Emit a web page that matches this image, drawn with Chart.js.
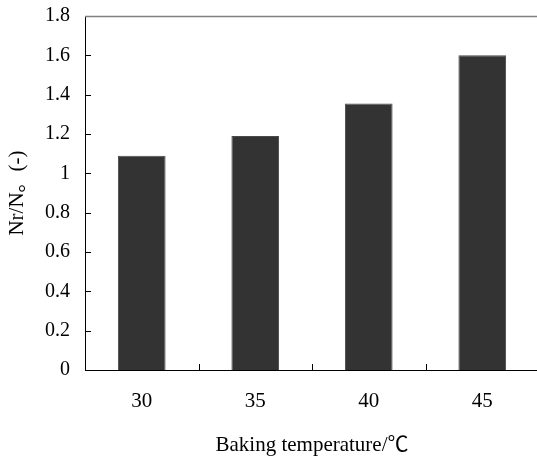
<!DOCTYPE html>
<html>
<head>
<meta charset="utf-8">
<script src="https://cdn.jsdelivr.net/npm/chart.js@4/dist/chart.umd.min.js"></script>
<style>
  html, body { margin: 0; padding: 0; background: #fff; overflow: hidden; }
  #wrap { width: 537px; height: 456px; overflow: hidden; }
</style>
</head>
<body>
<div id="wrap"><canvas id="chart" width="539" height="456"></canvas></div>
<script>
// data
const temperatures = ['30', '35', '40', '45'];
const ratioValues = [1.09, 1.19, 1.355, 1.6];
const yTicks = [0, 0.2, 0.4, 0.6, 0.8, 1, 1.2, 1.4, 1.6, 1.8];

const serif = '"Liberation Serif", "Times New Roman", "Noto Sans CJK SC", serif';

// inward tick marks and the grey top frame line
const frameTicks = {
  id: 'frameTicks',
  afterDraw(chart) {
    const { ctx, chartArea, scales } = chart;
    ctx.save();
    ctx.strokeStyle = '#000';
    ctx.lineWidth = 1;
    ctx.beginPath();
    yTicks.forEach(v => {
      const y = Math.round(scales.y.getPixelForValue(v)) + 0.5;
      ctx.moveTo(chartArea.left, y);
      ctx.lineTo(chartArea.left + 6, y);
    });
    for (let i = 1; i < temperatures.length; i++) {
      const x = Math.round((scales.x.getPixelForValue(i - 1) + scales.x.getPixelForValue(i)) / 2) + 0.5;
      ctx.moveTo(x, chartArea.bottom);
      ctx.lineTo(x, chartArea.bottom - 6);
    }
    ctx.stroke();

    ctx.strokeStyle = '#808080';
    ctx.lineWidth = 1.5;
    ctx.beginPath();
    ctx.moveTo(chartArea.left, chartArea.top + 0.5);
    ctx.lineTo(chartArea.right, chartArea.top + 0.5);
    ctx.stroke();
    ctx.restore();
  }
};

new Chart(document.getElementById('chart'), {
  type: 'bar',
  data: {
    labels: temperatures,
    datasets: [{
      data: ratioValues,
      backgroundColor: '#333333',
      borderColor: '#4a4a4a',
      borderWidth: 1,
      barPercentage: 0.42,
      categoryPercentage: 1
    }]
  },
  options: {
    responsive: false,
    animation: false,
    layout: { padding: { top: 16, left: 0, right: 0, bottom: 0 } },
    plugins: {
      legend: { display: false },
      tooltip: { enabled: false }
    },
    scales: {
      x: {
        afterFit: s => { s.height = 86; s.paddingLeft = 0; s.paddingRight = 0; },
        grid: { display: false, drawTicks: false },
        border: { color: '#000', width: 1 },
        ticks: { color: '#000', padding: 19, font: { family: serif, size: 21 } },
        title: {
          display: true,
          text: 'Baking temperature/℃',
          color: '#000',
          padding: { top: 0, bottom: 0 },
          font: { family: serif, size: 21, lineHeight: 1 }
        }
      },
      y: {
        min: 0,
        max: 1.8,
        afterFit: s => { s.width = 85; s.paddingTop = 0; s.paddingBottom = 0; },
        afterBuildTicks: s => { s.ticks = yTicks.map(v => ({ value: v })); },
        grid: { display: false, drawTicks: false },
        border: { color: '#000', width: 1 },
        ticks: {
          color: '#000',
          padding: 15,
          font: { family: serif, size: 20 },
          callback: v => String(Math.round(v * 10) / 10)
        },
        title: {
          display: true,
          text: 'Nr/N。(-)',
          color: '#000',
          padding: { top: 5, bottom: 0 },
          font: { family: serif, size: 21 }
        }
      }
    }
  },
  plugins: [frameTicks]
});
</script>
</body>
</html>
